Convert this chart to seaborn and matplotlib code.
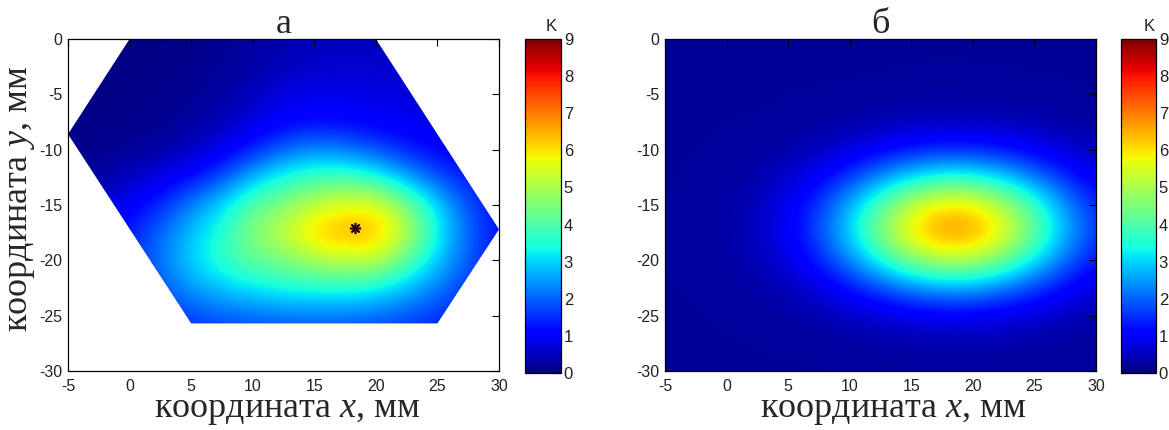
import numpy as np
import matplotlib
matplotlib.use("Agg")
import matplotlib.pyplot as plt
import seaborn as sns
from matplotlib.patches import Polygon

# Grid of sample positions, mm
x_mm = [-5, -2.5, 0, 2.5, 5, 7.5, 10, 12.5, 15, 17.5, 20, 22.5, 25, 27.5, 30]
y_mm = [0, -2.5, -5, -7.5, -10, -12.5, -15, -17.5, -20, -22.5, -25, -27.5, -30]

# Measured K over the hexagonal sensor area (rows follow y_mm, columns x_mm)
field_a = [
    [0.05, 0.05, 0.05, 0.05, 0.10, 0.15, 0.25, 0.35, 0.45, 0.50, 0.50, 0.50, 0.50, 0.50, 0.50],
    [0.05, 0.05, 0.05, 0.08, 0.12, 0.20, 0.35, 0.50, 0.60, 0.65, 0.65, 0.60, 0.60, 0.60, 0.60],
    [0.05, 0.05, 0.08, 0.10, 0.15, 0.30, 0.50, 0.75, 0.85, 0.85, 0.80, 0.75, 0.70, 0.70, 0.70],
    [0.05, 0.08, 0.10, 0.15, 0.25, 0.45, 0.75, 1.05, 1.15, 1.10, 1.00, 0.90, 0.80, 0.80, 0.80],
    [0.10, 0.12, 0.20, 0.30, 0.50, 0.85, 1.40, 2.00, 2.40, 2.20, 1.80, 1.40, 1.10, 1.00, 0.90],
    [0.20, 0.30, 0.50, 0.80, 1.20, 1.80, 2.80, 3.50, 3.80, 3.90, 3.50, 2.60, 1.80, 1.30, 1.10],
    [0.40, 0.60, 1.00, 1.50, 2.30, 3.10, 4.10, 4.60, 5.30, 5.70, 5.70, 4.50, 3.00, 1.80, 1.20],
    [0.60, 0.90, 1.40, 2.00, 2.90, 3.50, 4.70, 5.30, 6.30, 6.60, 6.50, 5.20, 3.30, 2.00, 1.20],
    [0.60, 0.90, 1.50, 2.20, 3.00, 3.70, 4.20, 4.50, 5.00, 5.30, 5.30, 4.10, 2.90, 1.90, 1.20],
    [0.50, 0.80, 1.30, 1.90, 2.50, 2.90, 3.20, 3.40, 3.50, 3.50, 3.30, 2.80, 2.20, 1.60, 1.20],
    [0.40, 0.70, 1.10, 1.50, 1.80, 2.00, 2.10, 2.20, 2.20, 2.20, 2.10, 1.90, 1.60, 1.30, 1.10],
    [0.30, 0.50, 0.80, 1.10, 1.30, 1.40, 1.50, 1.50, 1.50, 1.50, 1.40, 1.30, 1.20, 1.00, 0.90],
    [0.20, 0.40, 0.60, 0.80, 0.90, 1.00, 1.00, 1.00, 1.00, 1.00, 1.00, 0.90, 0.80, 0.80, 0.70],
]

# Model K over the full rectangle (rows follow y_mm, columns x_mm)
field_b = [
    [0.20, 0.20, 0.20, 0.20, 0.20, 0.20, 0.20, 0.20, 0.20, 0.20, 0.20, 0.20, 0.20, 0.20, 0.20],
    [0.20, 0.20, 0.20, 0.20, 0.20, 0.20, 0.20, 0.20, 0.21, 0.21, 0.21, 0.21, 0.20, 0.20, 0.20],
    [0.20, 0.20, 0.20, 0.20, 0.21, 0.21, 0.22, 0.23, 0.24, 0.25, 0.24, 0.24, 0.23, 0.22, 0.21],
    [0.20, 0.20, 0.21, 0.21, 0.23, 0.27, 0.32, 0.40, 0.46, 0.50, 0.49, 0.45, 0.39, 0.32, 0.26],
    [0.20, 0.21, 0.22, 0.26, 0.35, 0.51, 0.73, 1.02, 1.29, 1.44, 1.42, 1.24, 0.96, 0.68, 0.46],
    [0.20, 0.22, 0.26, 0.37, 0.60, 1.01, 1.64, 2.41, 3.12, 3.53, 3.49, 2.99, 2.26, 1.49, 0.91],
    [0.21, 0.23, 0.31, 0.49, 0.89, 1.62, 2.72, 4.08, 5.33, 6.06, 5.97, 5.11, 3.80, 2.47, 1.44],
    [0.21, 0.25, 0.32, 0.53, 0.98, 1.81, 3.07, 4.60, 6.04, 6.86, 6.77, 5.78, 4.30, 2.78, 1.62],
    [0.21, 0.24, 0.29, 0.44, 0.78, 1.40, 2.33, 3.46, 4.52, 5.13, 5.06, 4.33, 3.23, 2.11, 1.25],
    [0.20, 0.22, 0.25, 0.32, 0.48, 0.77, 1.23, 1.77, 2.28, 2.56, 2.53, 2.18, 1.66, 1.12, 0.71],
    [0.20, 0.20, 0.22, 0.25, 0.29, 0.38, 0.53, 0.69, 0.84, 0.94, 0.93, 0.82, 0.66, 0.49, 0.36],
    [0.20, 0.20, 0.20, 0.21, 0.22, 0.24, 0.27, 0.30, 0.34, 0.35, 0.35, 0.33, 0.30, 0.27, 0.24],
    [0.20, 0.20, 0.20, 0.20, 0.20, 0.20, 0.21, 0.21, 0.22, 0.22, 0.22, 0.22, 0.21, 0.21, 0.20],
]

# Outline of the sensor area
hex_x = [0, 20, 30, 25, 5, -5]
hex_y = [0, 0, -17.2, -25.7, -25.7, -8.6]

# Location of the maximum
peak_a = (18.3, -17.1)

x_ticks = [-5, 0, 5, 10, 15, 20, 25, 30]
y_ticks = [0, -5, -10, -15, -20, -25, -30]
cbar_ticks = [0, 1, 2, 3, 4, 5, 6, 7, 8, 9]
titles = ["а", "б"]
xlabel = "координата $\\mathit{x}$, мм"
ylabel = "координата $\\mathit{y}$, мм"

sns.set_theme(style="white")
plt.rcParams["font.family"] = ["Liberation Sans", "DejaVu Sans"]
plt.rcParams["axes.unicode_minus"] = False
plt.rcParams["mathtext.fontset"] = "custom"
plt.rcParams["mathtext.it"] = "Liberation Serif:italic"
plt.rcParams["mathtext.rm"] = "Liberation Serif"

W, H = 1169, 430
fig = plt.figure(figsize=(W / 100, H / 100), dpi=100)

def fx(px):
    return px / W

def fy(py):
    return 1 - py / H

ax_boxes = [
    [fx(68), fy(371), fx(431), 332 / H],
    [fx(665), fy(371), fx(431), 332 / H],
]
cb_boxes = [
    [fx(525), fy(373), fx(36), 334 / H],
    [fx(1121), fy(373), fx(35), 334 / H],
]
k_pos = [0.72, 0.81]
xlabel_x = [0.51, 0.529]

dx = (x_mm[1] - x_mm[0]) / 2
dy = (y_mm[0] - y_mm[1]) / 2
extent = (x_mm[0] - dx, x_mm[-1] + dx, y_mm[-1] - dy, y_mm[0] + dy)

serif = ["Liberation Serif", "DejaVu Serif"]
tick_color = "#222222"
label_size = 26

for i, field in enumerate([field_a, field_b]):
    ax = fig.add_axes(ax_boxes[i])
    im = ax.imshow(np.array(field), extent=extent, origin="upper", cmap="jet",
                   vmin=0, vmax=9, interpolation="bicubic",
                   interpolation_stage="data", aspect="auto")
    if i == 0:
        clip = Polygon(np.column_stack([hex_x, hex_y]), closed=True,
                       transform=ax.transData, facecolor="none", edgecolor="none")
        im.set_clip_path(clip)
        ax.plot([peak_a[0]], [peak_a[1]], marker=(8, 2, 0), markersize=8,
                color="#2a0000", markeredgewidth=1.2, linestyle="none")
        ax.set_ylabel(ylabel, fontsize=label_size, family=serif)
        ax.yaxis.set_label_coords((37 - 68) / 431, 0.52)
    ax.set_xlim(-5, 30)
    ax.set_ylim(-30, 0)
    ax.set_xticks(x_ticks)
    ax.set_yticks(y_ticks)
    ax.tick_params(direction="in", length=5, width=0.8, top=True, right=True,
                   labelsize=11.5, colors="black", labelcolor=tick_color)
    ax.tick_params(axis="x", pad=5.5)
    ax.tick_params(axis="y", pad=4)
    for s in ax.spines.values():
        s.set_color("black")
        s.set_linewidth(0.9)
    ax.set_xlabel(xlabel, fontsize=label_size, family=serif)
    ax.xaxis.label.set_va("baseline")
    ax.xaxis.set_label_coords(xlabel_x[i], (371 - 417) / 332)
    ax.set_title(titles[i], fontsize=label_size, family=serif, pad=4)

    cax = fig.add_axes(cb_boxes[i])
    cb = fig.colorbar(im, cax=cax, ticks=cbar_ticks)
    cb.outline.set_edgecolor("black")
    cb.outline.set_linewidth(0.9)
    cax.tick_params(direction="in", length=4, width=0.8, left=True, right=True,
                    labelsize=12, labelcolor=tick_color, pad=2)
    cax.text(k_pos[i], 1.015, "K", transform=cax.transAxes, ha="center",
             va="bottom", fontsize=12, color=tick_color)

fig.savefig("out.png", dpi=100)
